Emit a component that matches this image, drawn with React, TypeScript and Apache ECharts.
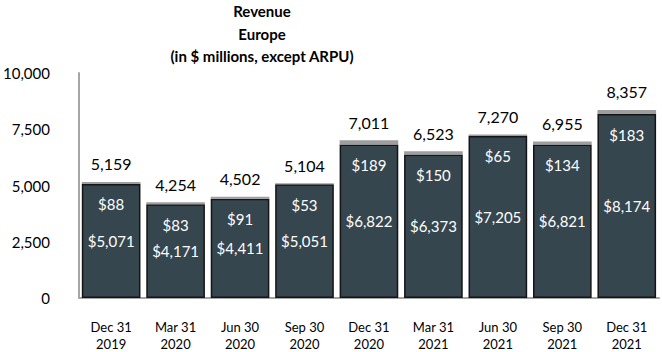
import React, { useEffect, useRef } from "react";
import * as echarts from "echarts";

const categories = [
  "Dec 31\n2019",
  "Mar 31\n2020",
  "Jun 30\n2020",
  "Sep 30\n2020",
  "Dec 31\n2020",
  "Mar 31\n2021",
  "Jun 30\n2021",
  "Sep 30\n2021",
  "Dec 31\n2021",
];
const baseRevenue = [5071, 4171, 4411, 5051, 6822, 6373, 7205, 6821, 8174];
const topRevenue = [88, 83, 91, 53, 189, 150, 65, 134, 183];
const totals = [5159, 4254, 4502, 5104, 7011, 6523, 7270, 6955, 8357];
const yTicks = [0, 2500, 5000, 7500, 10000];

const FONT = "Lato, 'Open Sans', sans-serif";
const fmt = (v: number) => v.toLocaleString("en-US");

export default function App() {
  const ref = useRef<HTMLDivElement>(null);
  useEffect(() => {
    if (!ref.current) return;
    const chart = echarts.init(ref.current, null, { renderer: "svg" });
    chart.setOption({
      animation: false,
      textStyle: { fontFamily: FONT },
      title: {
        text: "Revenue\nEurope\n(in $ millions, except ARPU)",
        left: 262,
        top: 0,
        padding: 0,
        textAlign: "center",
        textStyle: {
          fontFamily: FONT,
          fontSize: 15,
          fontWeight: "bold",
          lineHeight: 22.5,
          color: "#000",
        },
      },
      grid: { left: 73, right: 3, top: 73, bottom: 54 },
      xAxis: {
        type: "category",
        data: categories,
        axisLine: { lineStyle: { color: "#a6a6a6", width: 2 } },
        axisTick: { show: false },
        axisLabel: {
          color: "#000",
          fontSize: 13,
          lineHeight: 17,
          margin: 20,
          fontFamily: FONT,
        },
      },
      yAxis: {
        type: "value",
        min: yTicks[0],
        max: yTicks[yTicks.length - 1],
        interval: 2500,
        axisLine: { show: true, lineStyle: { color: "#a6a6a6", width: 2 } },
        axisTick: { show: false },
        splitLine: { show: false },
        axisLabel: {
          color: "#000",
          fontSize: 15,
          margin: 29,
          fontFamily: FONT,
          formatter: (v: number) => fmt(v),
        },
      },
      series: [
        {
          type: "bar",
          stack: "rev",
          data: baseRevenue,
          barCategoryGap: "9%",
          itemStyle: { color: "#36464f", borderColor: "#151515", borderWidth: 1.5 },
          label: {
            show: true,
            position: "inside",
            color: "#fff",
            fontSize: 15,
            fontFamily: FONT,
            formatter: (p: any) => "$" + fmt(p.value),
          },
        },
        {
          type: "bar",
          stack: "rev",
          data: topRevenue,
          itemStyle: { color: "#9e9e9e" },
          label: {
            show: true,
            position: "bottom",
            distance: 13,
            color: "#fff",
            fontSize: 15,
            fontFamily: FONT,
            formatter: (p: any) => "$" + fmt(p.value),
          },
        },
        {
          type: "bar",
          data: totals,
          barGap: "-100%",
          itemStyle: { color: "rgba(0,0,0,0)" },
          silent: true,
          z: 0,
          label: {
            show: true,
            position: "top",
            distance: 10,
            color: "#000",
            fontSize: 16,
            fontFamily: FONT,
            formatter: (p: any) => fmt(p.value),
          },
        },
      ],
    });
    return () => chart.dispose();
  }, []);
  return (
    <div
      ref={ref}
      style={{ position: "fixed", left: 0, top: 0, width: 662, height: 352, background: "#fff" }}
    />
  );
}
